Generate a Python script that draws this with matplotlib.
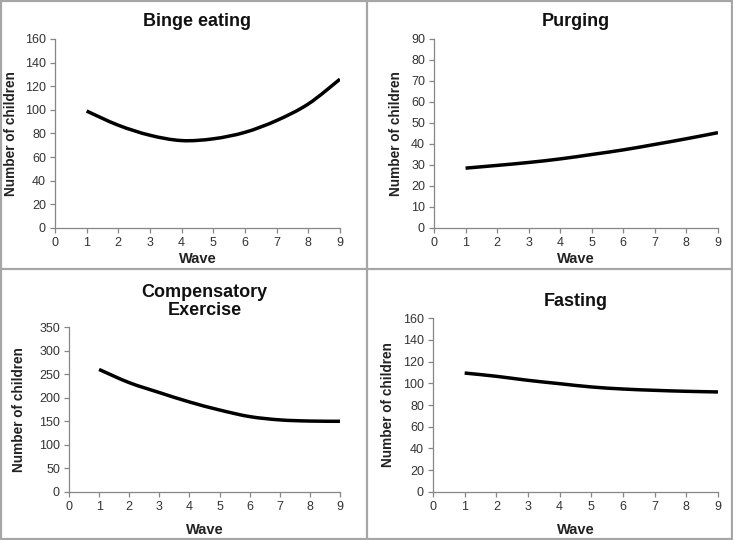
import matplotlib
matplotlib.use("Agg")
import matplotlib.pyplot as plt
from matplotlib.lines import Line2D
from matplotlib.patches import Rectangle, PathPatch
from matplotlib.path import Path

plt.rcParams["font.family"] = ["Liberation Sans", "DejaVu Sans"]

waves = [1, 2, 3, 4, 5, 6, 7, 8, 9]
binge = [99, 87, 78.5, 74, 75.5, 81, 91, 105, 126]
purging = [28.5, 29.8, 31.2, 32.9, 35.0, 37.2, 39.8, 42.5, 45.4]
exercise = [260, 232, 211, 191, 174, 160, 153, 150.5, 150]
fasting = [109.4, 106.4, 102.7, 99.6, 96.6, 94.7, 93.5, 92.6, 92]

titles = ["Binge eating", "Purging", "Compensatory\nExercise", "Fasting"]
series = [binge, purging, exercise, fasting]
ymaxes = [160, 90, 350, 160]
ysteps = [20, 10, 50, 20]
boxes = [
    [0.075, 0.5778, 0.3888, 0.35],
    [0.5921, 0.5778, 0.3874, 0.35],
    [0.0941, 0.0889, 0.3697, 0.3055],
    [0.5907, 0.0889, 0.3888, 0.3222],
]
ylabel_x = [-0.13, -0.109, -0.159, -0.133]

GRAY = "#868686"


def smooth_path(x, y):
    # Excel style smoothed line: cubic bezier through each point
    verts = [(x[0], y[0])]
    codes = [Path.MOVETO]
    n = len(x)
    for i in range(n - 1):
        x0, y0 = (x[i - 1], y[i - 1]) if i > 0 else (x[i], y[i])
        x3, y3 = (x[i + 2], y[i + 2]) if i + 2 < n else (x[i + 1], y[i + 1])
        c1 = (x[i] + (x[i + 1] - x0) / 6, y[i] + (y[i + 1] - y0) / 6)
        c2 = (x[i + 1] - (x3 - x[i]) / 6, y[i + 1] - (y3 - y[i]) / 6)
        verts += [c1, c2, (x[i + 1], y[i + 1])]
        codes += [Path.CURVE4] * 3
    return Path(verts, codes)


fig = plt.figure(figsize=(7.33, 5.40), dpi=100)

for k in range(4):
    ax = fig.add_axes(boxes[k])
    ax.add_patch(PathPatch(smooth_path(waves, series[k]), fill=False,
                           edgecolor="black", linewidth=2.5, capstyle="butt"))
    ax.set_xlim(0, 9)
    ax.set_ylim(0, ymaxes[k])
    ax.set_xticks(range(0, 10))
    ax.set_yticks(range(0, ymaxes[k] + 1, ysteps[k]))
    for side in ["top", "right"]:
        ax.spines[side].set_visible(False)
    for side in ["left", "bottom"]:
        ax.spines[side].set_color(GRAY)
        ax.spines[side].set_linewidth(0.9)
    ax.tick_params(colors=GRAY, labelcolor="#333333", labelsize=9,
                   length=3.5, width=0.9, pad=3)
    ax.set_title(titles[k], fontsize=13, fontweight="bold", pad=9,
                 linespacing=1.05, color="#111111")
    ax.set_xlabel("Wave", fontsize=10.5, fontweight="bold", color="#222222",
                  labelpad=2 if k < 2 else 7)
    ax.set_ylabel("Number of children", fontsize=9.8, fontweight="bold",
                  color="#222222")
    ax.yaxis.set_label_coords(ylabel_x[k], 0.5)

BORDER = "#a6a6a6"
fig.add_artist(Line2D([0.5007, 0.5007], [0, 1], color=BORDER, linewidth=1.6))
fig.add_artist(Line2D([0, 1], [0.5019, 0.5019], color=BORDER, linewidth=1.6))
fig.add_artist(Rectangle((0.001, 0.002), 0.997, 0.996, fill=False,
                         edgecolor=BORDER, linewidth=1.6,
                         transform=fig.transFigure))

fig.savefig("out.png", dpi=100)
